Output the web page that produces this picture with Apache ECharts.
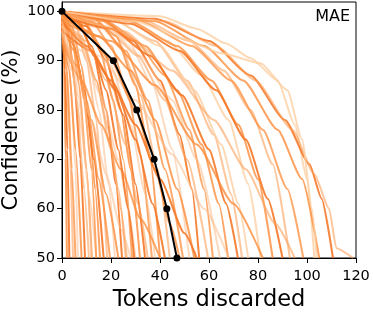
<!DOCTYPE html>
<html><head><meta charset="utf-8">
<script src="https://cdn.jsdelivr.net/npm/echarts@6/dist/echarts.min.js"></script>
<style>html,body{margin:0;padding:0;background:#fff}#c{width:373px;height:315px}</style>
</head><body><div id="c"></div>
<script>
// ---- data ----
const xTicks = [0, 20, 40, 60, 80, 100, 120];
const yTicks = [50, 60, 70, 80, 90, 100];
const meanCurve = [[0,100],[21,90],[30.5,80],[37.6,70],[42.8,60],[46.9,50]];
const curves = [
 [[0,100],[0.8,90],[1.5,70],[2,50]],
 [[0,99],[1.2,88],[2.2,72],[3,50]],
 [[0,100],[1.5,92],[3,75],[4.5,50]],
 [[0,98],[2,88],[4,68],[5.5,50]],
 [[0,100],[2,95],[4,82],[5.5,68],[6.5,50]],
 [[0,97],[3,88],[5.5,72],[8,50]],
 [[0,100],[2.5,96],[5,86],[7.5,70],[9.4,50]],
 [[0,99],[3,94],[6,82],[9,64],[11,50]],
 [[0,100],[4,95],[7,85],[10,68],[12.2,50]],
 [[0,96],[4,88],[8,76],[11,63],[14,50]],
 [[0,100],[4,97],[8,89],[11,78],[13.5,64],[15.5,50]],
 [[0,99],[5,93],[9,84],[13,70],[17,50]],
 [[0,100],[5,98],[10,90],[14,78],[16.5,64],[18.4,50]],
 [[0,98],[5,92],[10,82],[15,66],[19.6,50]],
 [[0,100],[6,97],[11,90],[15,80],[19,65],[21.6,50]],
 [[0,95],[6,89],[12,78],[18,63],[23,50]],
 [[0,100],[7,98],[13,91],[18,80],[22,65],[24.5,50]],
 [[0,99],[8,95],[14,86],[20,72],[24,60],[26.5,50]],
 [[0,100],[8,98.5],[15,93],[21,82],[25,70],[28.6,50]],
 [[0,97],[8,92],[16,83],[23,70],[27,60],[30,50]],
 [[0,100],[9,98],[17,92],[24,80],[28,68],[31.8,50]],
 [[0,99.5],[10,97],[18,90],[25,79],[30,65],[33.9,50]],
 [[0,98],[10,94],[18,86],[26,73],[31,61],[35,50]],
 [[0,100],[12,98],[20,93],[27,83],[32,71],[36.7,50]],
 [[0,99],[11,96],[20,89],[28,77],[34,63],[38,50]],
 [[0,100],[12,99],[22,95],[30,85],[36,70],[40,50]],
 [[0,96],[12,92],[22,84],[30,74],[37,61],[42,50]],
 [[0,100],[14,98],[24,93],[32,83],[39,68],[44,50]],
 [[0,99.5],[15,97.5],[26,92],[35,82],[42,68],[49.4,50]],
 [[0,100],[15,98.5],[27,94],[37,85],[45,72],[52,50]],
 [[0,98],[15,95],[28,88],[38,78],[47,64],[54,50]],
 [[0,100],[16,98.5],[29,94],[40,86],[48,75],[53,64],[56,50]],
 [[0,99],[18,96.5],[31,91],[42,82],[51,70],[59.6,50]],
 [[0,100],[15,98.5],[30,94],[42,87],[52,76],[58,64],[61.6,50]],
 [[0,99.5],[18,97],[32,91],[45,82],[55,70],[64.5,50]],
 [[0,100],[18,98],[34,93],[47,84],[57,73],[64,61],[67.8,50]],
 [[0,99],[20,96.5],[36,91],[49,83],[60,72],[67,61],[71.8,50]],
 [[0,100],[20,98.5],[38,94],[51,86],[62,75],[69,63],[73.5,50]],
 [[0,100],[22,98],[40,93],[54,84],[65,73],[72,61],[76,50]],
 [[0,100],[25,98.5],[43,94],[57,87],[68,78],[76,65],[81,50]],
 [[0,100],[28,98],[47,93],[61,86],[72,77],[80,66],[86,50]],
 [[0,100],[28,97.5],[48,92],[63,84],[75,74],[84,62],[90,50]],
 [[0,100],[32,98.5],[52,94],[66,88],[77,80],[86,69],[93,50]],
 [[0,100],[32,98],[53,93],[69,86],[82,76],[92,64],[98.5,50]],
 [[0,100],[40,99],[55,96.5],[67,93.5],[77,90.5],[88,86],[95,77],[100,66],[103,50]],
 [[0,100],[38,98],[58,93],[74,86],[88,76],[98,66],[105,50]],
 [[0,100],[38,98.5],[60,94],[77,87],[91,78],[101,69],[106,62],[110.6,50]],
 [[0,100],[42,98],[63,93],[79,86],[94,76],[103,67],[109,60],[112,52],[118.8,50]],
 [[0,100],[30,98],[49,94.5],[65,91.5],[81,89.5],[92,84],[98,74],[102,60],[104,50]],
 [[0,97],[15,91],[30,82],[45,71],[58,60],[68,50]],
 [[0,99],[20,94],[38,85],[55,73],[70,61],[82,50]],
 [[0,98],[10,93],[20,86],[30,77],[40,66],[50,55],[55,50]],
 [[0,100],[25,96],[45,88],[62,78],[75,68],[87,57],[95,50]],
 [[0,94],[8,86],[16,77],[24,68],[32,58],[40,50]],
 [[0,96],[6,88],[12,78],[18,67],[24,56],[28,50]],
 [[0,99],[10,96],[20,90],[30,80],[38,68],[44,57],[48,50]],
 [[0,100],[6,98],[12,93],[18,84],[23,72],[27,60],[29.5,50]],
 [[0,99],[8,94],[14,86],[19,76],[23,64],[26,50]],
 [[0,100],[3,97],[6,91],[9,82],[12,68],[14,50]],
 [[0,98],[4,91],[7,82],[10,68],[12,50]]
];

// ---- styling ----
const shades = ['rgba(253,141,60,0.8)','rgba(245,120,40,0.9)','rgba(253,160,90,0.6)','rgba(253,141,60,0.75)','rgba(253,190,140,0.55)'];
const faintIdx = {38:1,39:1,44:1,48:1};
const series = curves.map((c, i) => ({
  type: 'line', data: c, showSymbol: false, silent: true, animation: false,
  smooth: 0.2, smoothMonotone: 'x', clip: true,
  lineStyle: { width: 2, color: faintIdx[i] ? 'rgba(253,208,162,0.8)' : shades[i % shades.length] },
  z: 2
}));
series.push({
  type: 'line', data: meanCurve, symbol: 'circle', symbolSize: 7, showSymbol: true,
  silent: true, animation: false, clip: false, z: 10,
  lineStyle: { width: 2, color: '#000' }, itemStyle: { color: '#000' }
});

const chart = echarts.init(document.getElementById('c'), null, { renderer: 'canvas' });
const font = 'DejaVu Sans';
chart.setOption({
  animation: false,
  grid: { left: 62, right: 17, top: 2, bottom: 57, show: true, borderColor: '#000', borderWidth: 1,
          backgroundColor: 'transparent', containLabel: false, outerBoundsMode: 'none' },
  xAxis: {
    type: 'value', min: xTicks[0], max: xTicks[xTicks.length-1], interval: 20,
    name: 'Tokens discarded', nameLocation: 'middle', nameGap: 31, nameMoveOverlap: false,
    nameTextStyle: { fontFamily: font, fontSize: 22.5, color: '#000' },
    axisLine: { show: true, onZero: false, lineStyle: { color: '#000', width: 1 } },
    axisTick: { show: true, inside: false, length: 5, lineStyle: { color: '#000' } },
    axisLabel: { fontFamily: font, fontSize: 14.5, color: '#000', margin: 11 },
    splitLine: { show: false }
  },
  yAxis: {
    type: 'value', min: yTicks[0], max: 101.9, interval: 10,
    name: 'Confidence (%)', nameLocation: 'middle', nameGap: 40, nameMoveOverlap: false,
    nameTextStyle: { fontFamily: font, fontSize: 21, color: '#000' },
    axisLine: { show: true, onZero: false, lineStyle: { color: '#000', width: 1 } },
    axisTick: { show: true, inside: false, length: 5, lineStyle: { color: '#000' } },
    axisLabel: { fontFamily: font, fontSize: 14.5, color: '#000', margin: 7, showMaxLabel: false,
      formatter: v => (yTicks.indexOf(v) >= 0 ? String(v) : '') },
    splitLine: { show: false }
  },
  graphic: [{ type: 'text', right: 23, top: 9, style: { text: 'MAE', fontFamily: font, fontSize: 16, fill: '#000' } }],
  series: series
});
</script></body></html>
